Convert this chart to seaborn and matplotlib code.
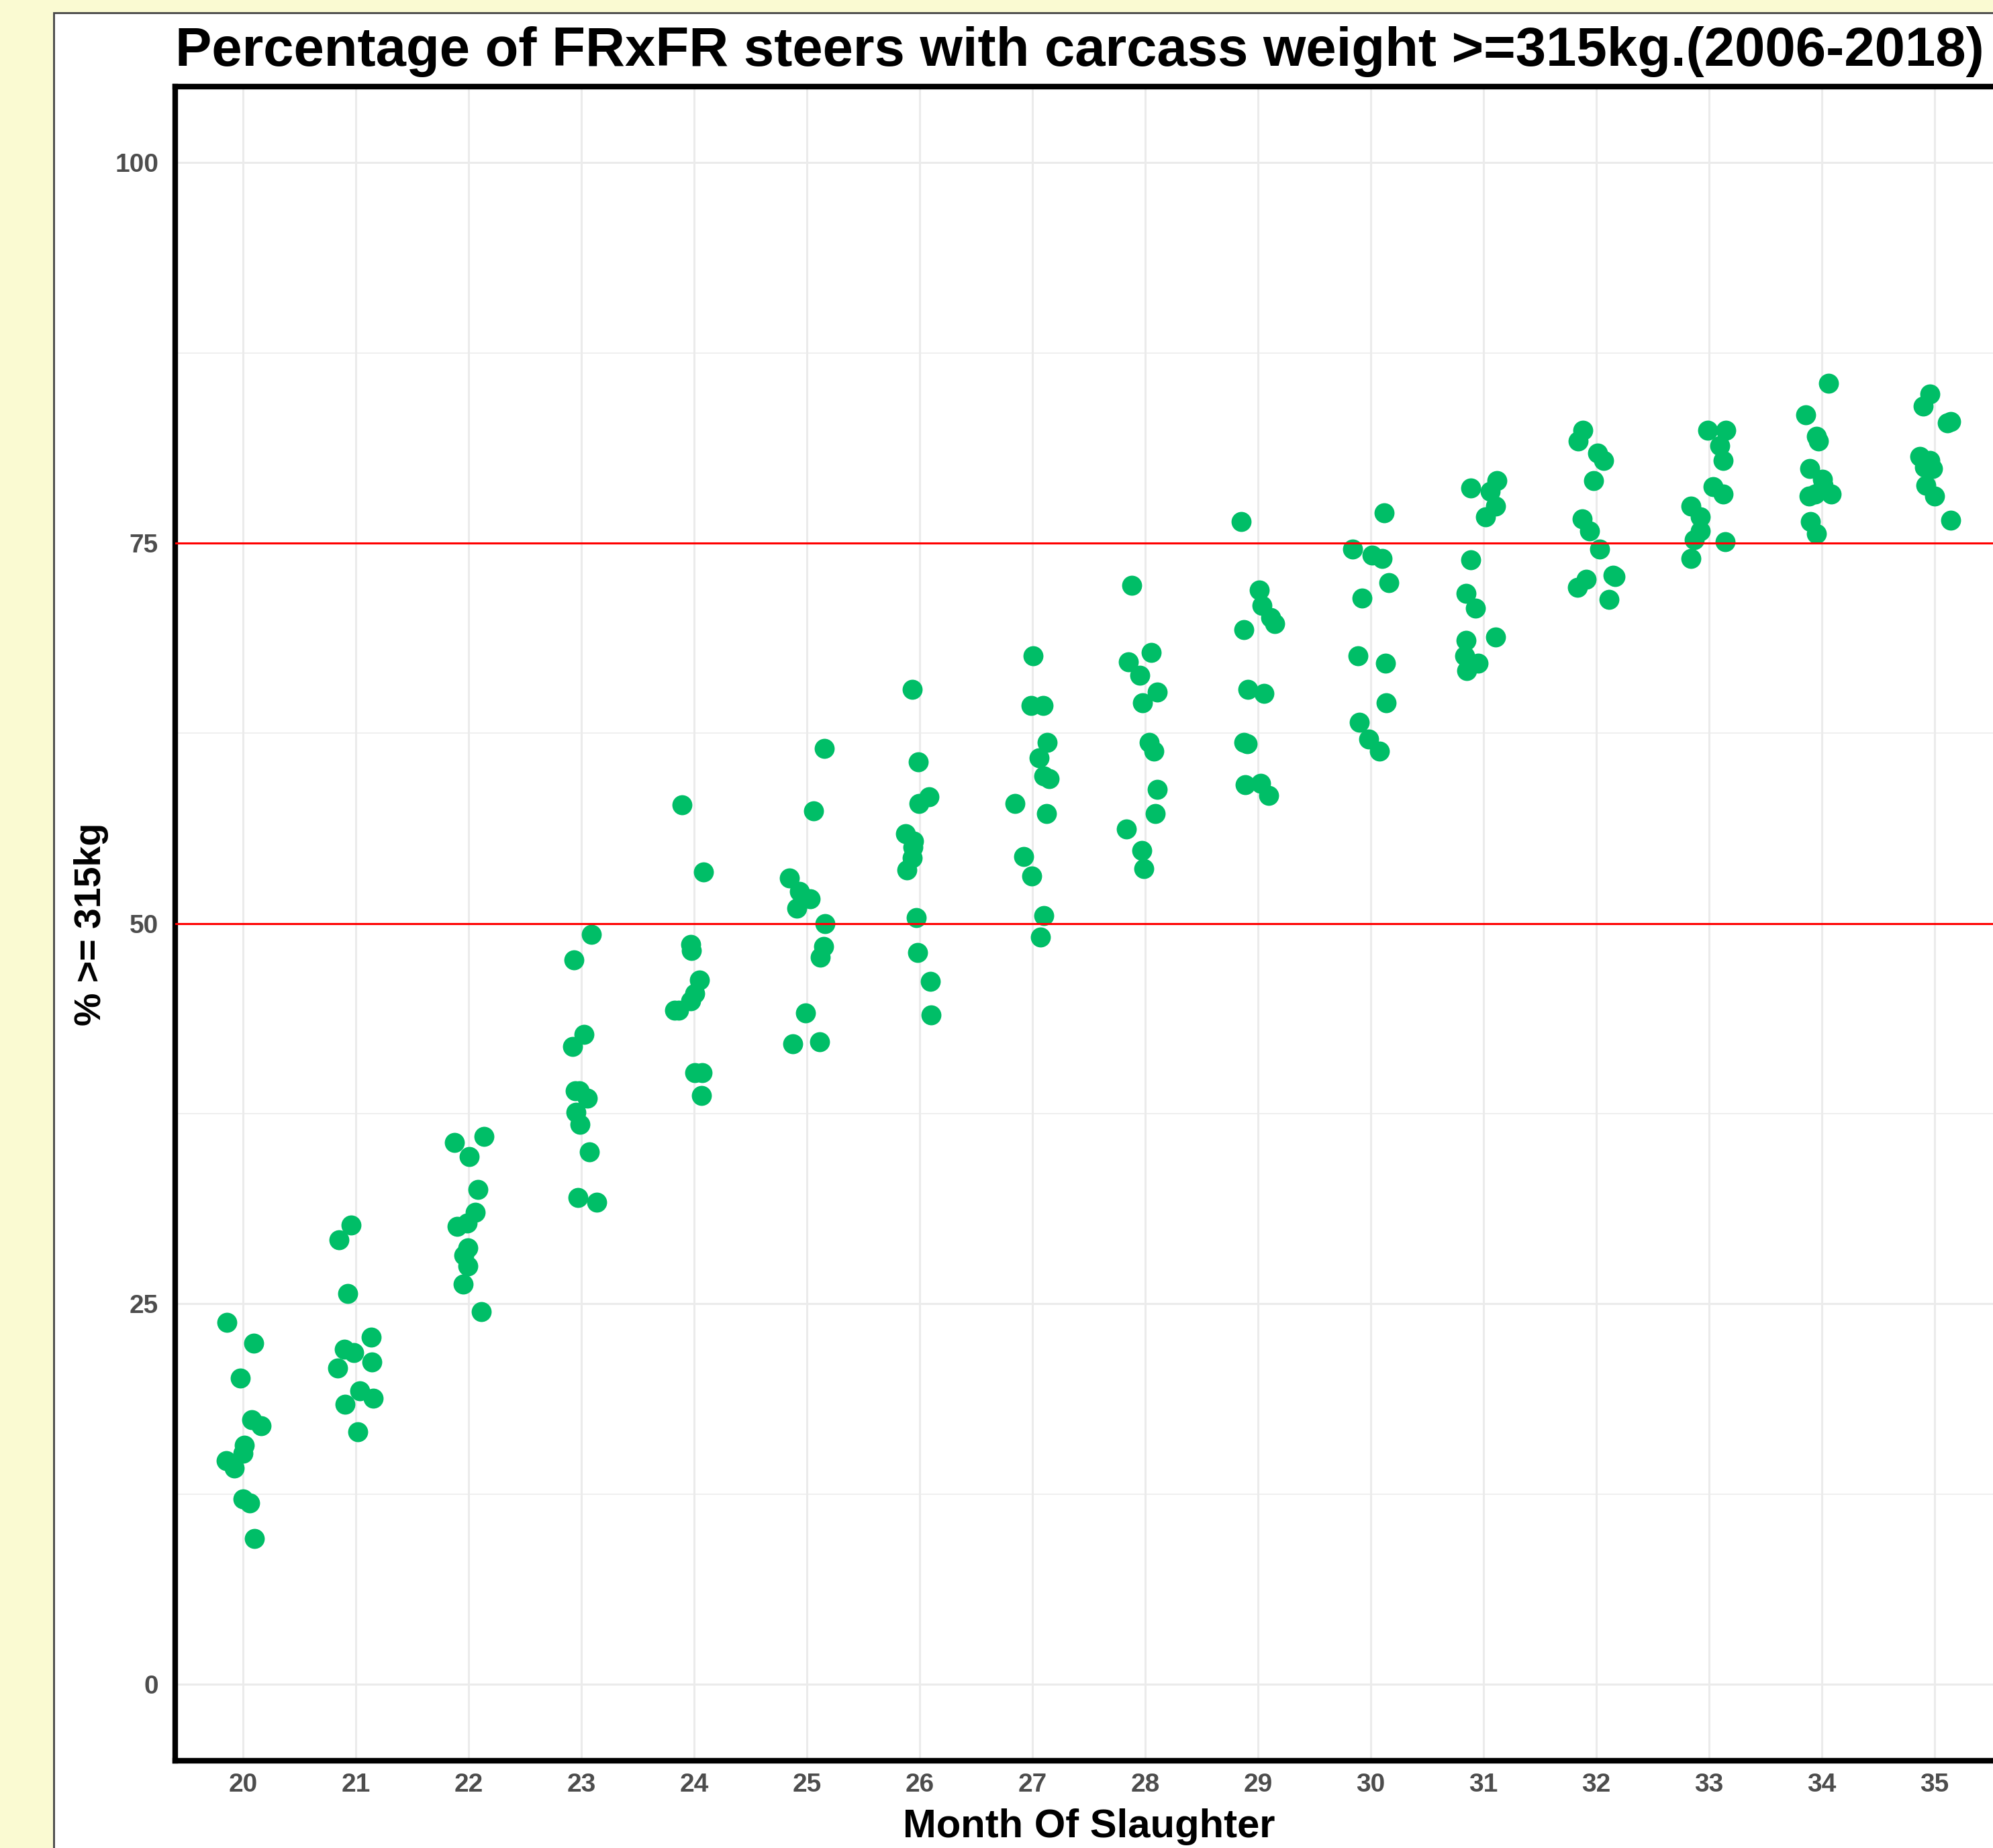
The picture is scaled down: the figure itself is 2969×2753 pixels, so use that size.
import numpy as np
import pandas as pd
import matplotlib
matplotlib.use('Agg')
import matplotlib.pyplot as plt
import seaborn as sns
from matplotlib.patches import Rectangle

# Percentage of FRxFR steers >= 315kg, one value per year (2006-2018), by month of slaughter
months = list(range(20, 36))
pct_m20 = [23.8, 22.4, 20.1, 17.4, 17.0, 15.7, 15.2, 14.7, 14.2, 12.2, 11.9, 9.6]
pct_m21 = [30.2, 29.2, 25.7, 22.8, 22.0, 21.8, 21.2, 20.8, 19.3, 18.8, 18.4, 16.6]
pct_m22 = [36.0, 35.6, 34.7, 32.5, 31.0, 30.3, 30.1, 28.7, 28.2, 27.5, 26.3, 24.5]
pct_m23 = [49.3, 47.6, 42.7, 41.9, 39.0, 39.0, 38.5, 37.6, 36.8, 35.0, 32.0, 31.7]
pct_m24 = [57.8, 53.4, 48.6, 48.2, 46.3, 45.4, 44.9, 44.3, 44.3, 40.2, 40.2, 38.7]
pct_m25 = [61.5, 57.4, 53.0, 52.1, 51.6, 51.0, 50.0, 48.5, 47.8, 44.1, 42.2, 42.1]
pct_m26 = [65.4, 60.6, 58.3, 57.9, 55.9, 55.4, 55.0, 54.3, 53.5, 50.4, 48.1, 46.2, 44.0]
pct_m27 = [67.6, 64.3, 64.3, 61.9, 60.9, 59.7, 59.5, 57.9, 57.2, 54.4, 53.1, 50.5, 49.1]
pct_m28 = [72.2, 67.8, 67.2, 66.3, 65.2, 64.5, 61.9, 61.3, 58.8, 57.2, 56.2, 54.8, 53.6]
pct_m29 = [76.4, 71.9, 70.9, 70.1, 69.7, 69.3, 65.4, 65.1, 61.9, 61.8, 59.2, 59.1, 58.4]
pct_m30 = [77.0, 74.6, 74.2, 74.0, 72.4, 71.4, 67.6, 67.1, 64.5, 63.2, 62.1, 61.3]
pct_m31 = [79.1, 78.6, 78.4, 77.4, 76.7, 73.9, 71.7, 70.7, 68.8, 68.6, 67.6, 67.1, 66.6]
pct_m32 = [82.4, 81.7, 80.9, 80.4, 79.1, 76.6, 75.8, 74.6, 72.9, 72.8, 72.6, 72.1, 71.3]
pct_m33 = [82.4, 82.4, 81.4, 80.4, 78.7, 78.2, 77.4, 76.7, 75.8, 75.2, 75.1, 74.0]
pct_m34 = [85.5, 83.4, 82.0, 81.7, 79.9, 79.2, 78.8, 78.2, 78.2, 78.1, 76.4, 75.6]
pct_m35 = [84.8, 84.0, 83.0, 82.9, 80.7, 80.4, 80.0, 79.9, 78.8, 78.1, 76.5]
all_pcts = [pct_m20, pct_m21, pct_m22, pct_m23, pct_m24, pct_m25, pct_m26, pct_m27,
            pct_m28, pct_m29, pct_m30, pct_m31, pct_m32, pct_m33, pct_m34, pct_m35]
ref_lines = [50, 75]
y_ticks = [0, 25, 50, 75, 100]
y_minor = [12.5, 37.5, 62.5, 87.5]

rows = [(m, v) for m, vals in zip(months, all_pcts) for v in vals]
df = pd.DataFrame(rows, columns=['month', 'pct'])

W, H = 2969, 2753
sns.set_style('white')
plt.rcParams['font.family'] = ['Liberation Sans', 'DejaVu Sans']

fig = plt.figure(figsize=(W / 100, H / 100), dpi=100, facecolor='#FAFAD2')
# white plot background with thin frame (yellow strip at left/top)
fig.patches.append(Rectangle((80 / W, -0.01), 1.0, 1 - 19 / H + 0.01, transform=fig.transFigure,
                             facecolor='white', edgecolor='#444444', linewidth=2, zorder=-10))

ax = fig.add_axes([261 / W, (H - 2622.5) / H, (2983 - 261) / W, (2622.5 - 128.8) / H])
ax.set_zorder(1)
ax.set_facecolor('white')

np.random.seed(7)
sns.stripplot(data=df, x='month', y='pct', color='#00BE67', size=21.5, jitter=0.17,
              linewidth=0, ax=ax, zorder=3)

for v in ref_lines:
    ax.axhline(v, color='red', linewidth=2.2, zorder=4)

ax.set_xlim(-0.6, len(months) - 0.4)
ax.set_ylim(-5, 105)
ax.set_yticks(y_ticks)
ax.set_yticks(y_minor, minor=True)
ax.set_axisbelow(True)
ax.grid(which='major', axis='both', color='#EBEBEB', linewidth=2.2)
ax.grid(which='minor', axis='y', color='#EBEBEB', linewidth=1.1)

for s in ax.spines.values():
    s.set_linewidth(6)
    s.set_color('black')

ax.tick_params(axis='both', which='major', length=10, width=2, color='#333333',
               labelsize=28, labelcolor='#4D4D4D')
ax.tick_params(axis='x', which='major', pad=3)
ax.tick_params(axis='y', which='major', pad=8)
ax.tick_params(which='minor', length=0)
for lbl in ax.get_xticklabels() + ax.get_yticklabels():
    lbl.set_fontweight('bold')

ax.set_xlabel('')
ax.set_ylabel('')
fig.text(1622 / W, 16 / H, 'Month Of Slaughter', ha='center', va='baseline',
         fontsize=43, fontweight='bold', color='black')
fig.text(150 / W, 1 - 1377 / H, '% >= 315kg', rotation=90, rotation_mode='anchor',
         ha='center', va='baseline', fontsize=40, fontweight='bold', color='black')
fig.text(261 / W, 1 - 98 / H, 'Percentage of FRxFR steers with carcass weight >=315kg.(2006-2018)',
         ha='left', va='baseline', fontsize=58.7, fontweight='bold', color='black')

fig.savefig('out.png', dpi=100, facecolor=fig.get_facecolor())
